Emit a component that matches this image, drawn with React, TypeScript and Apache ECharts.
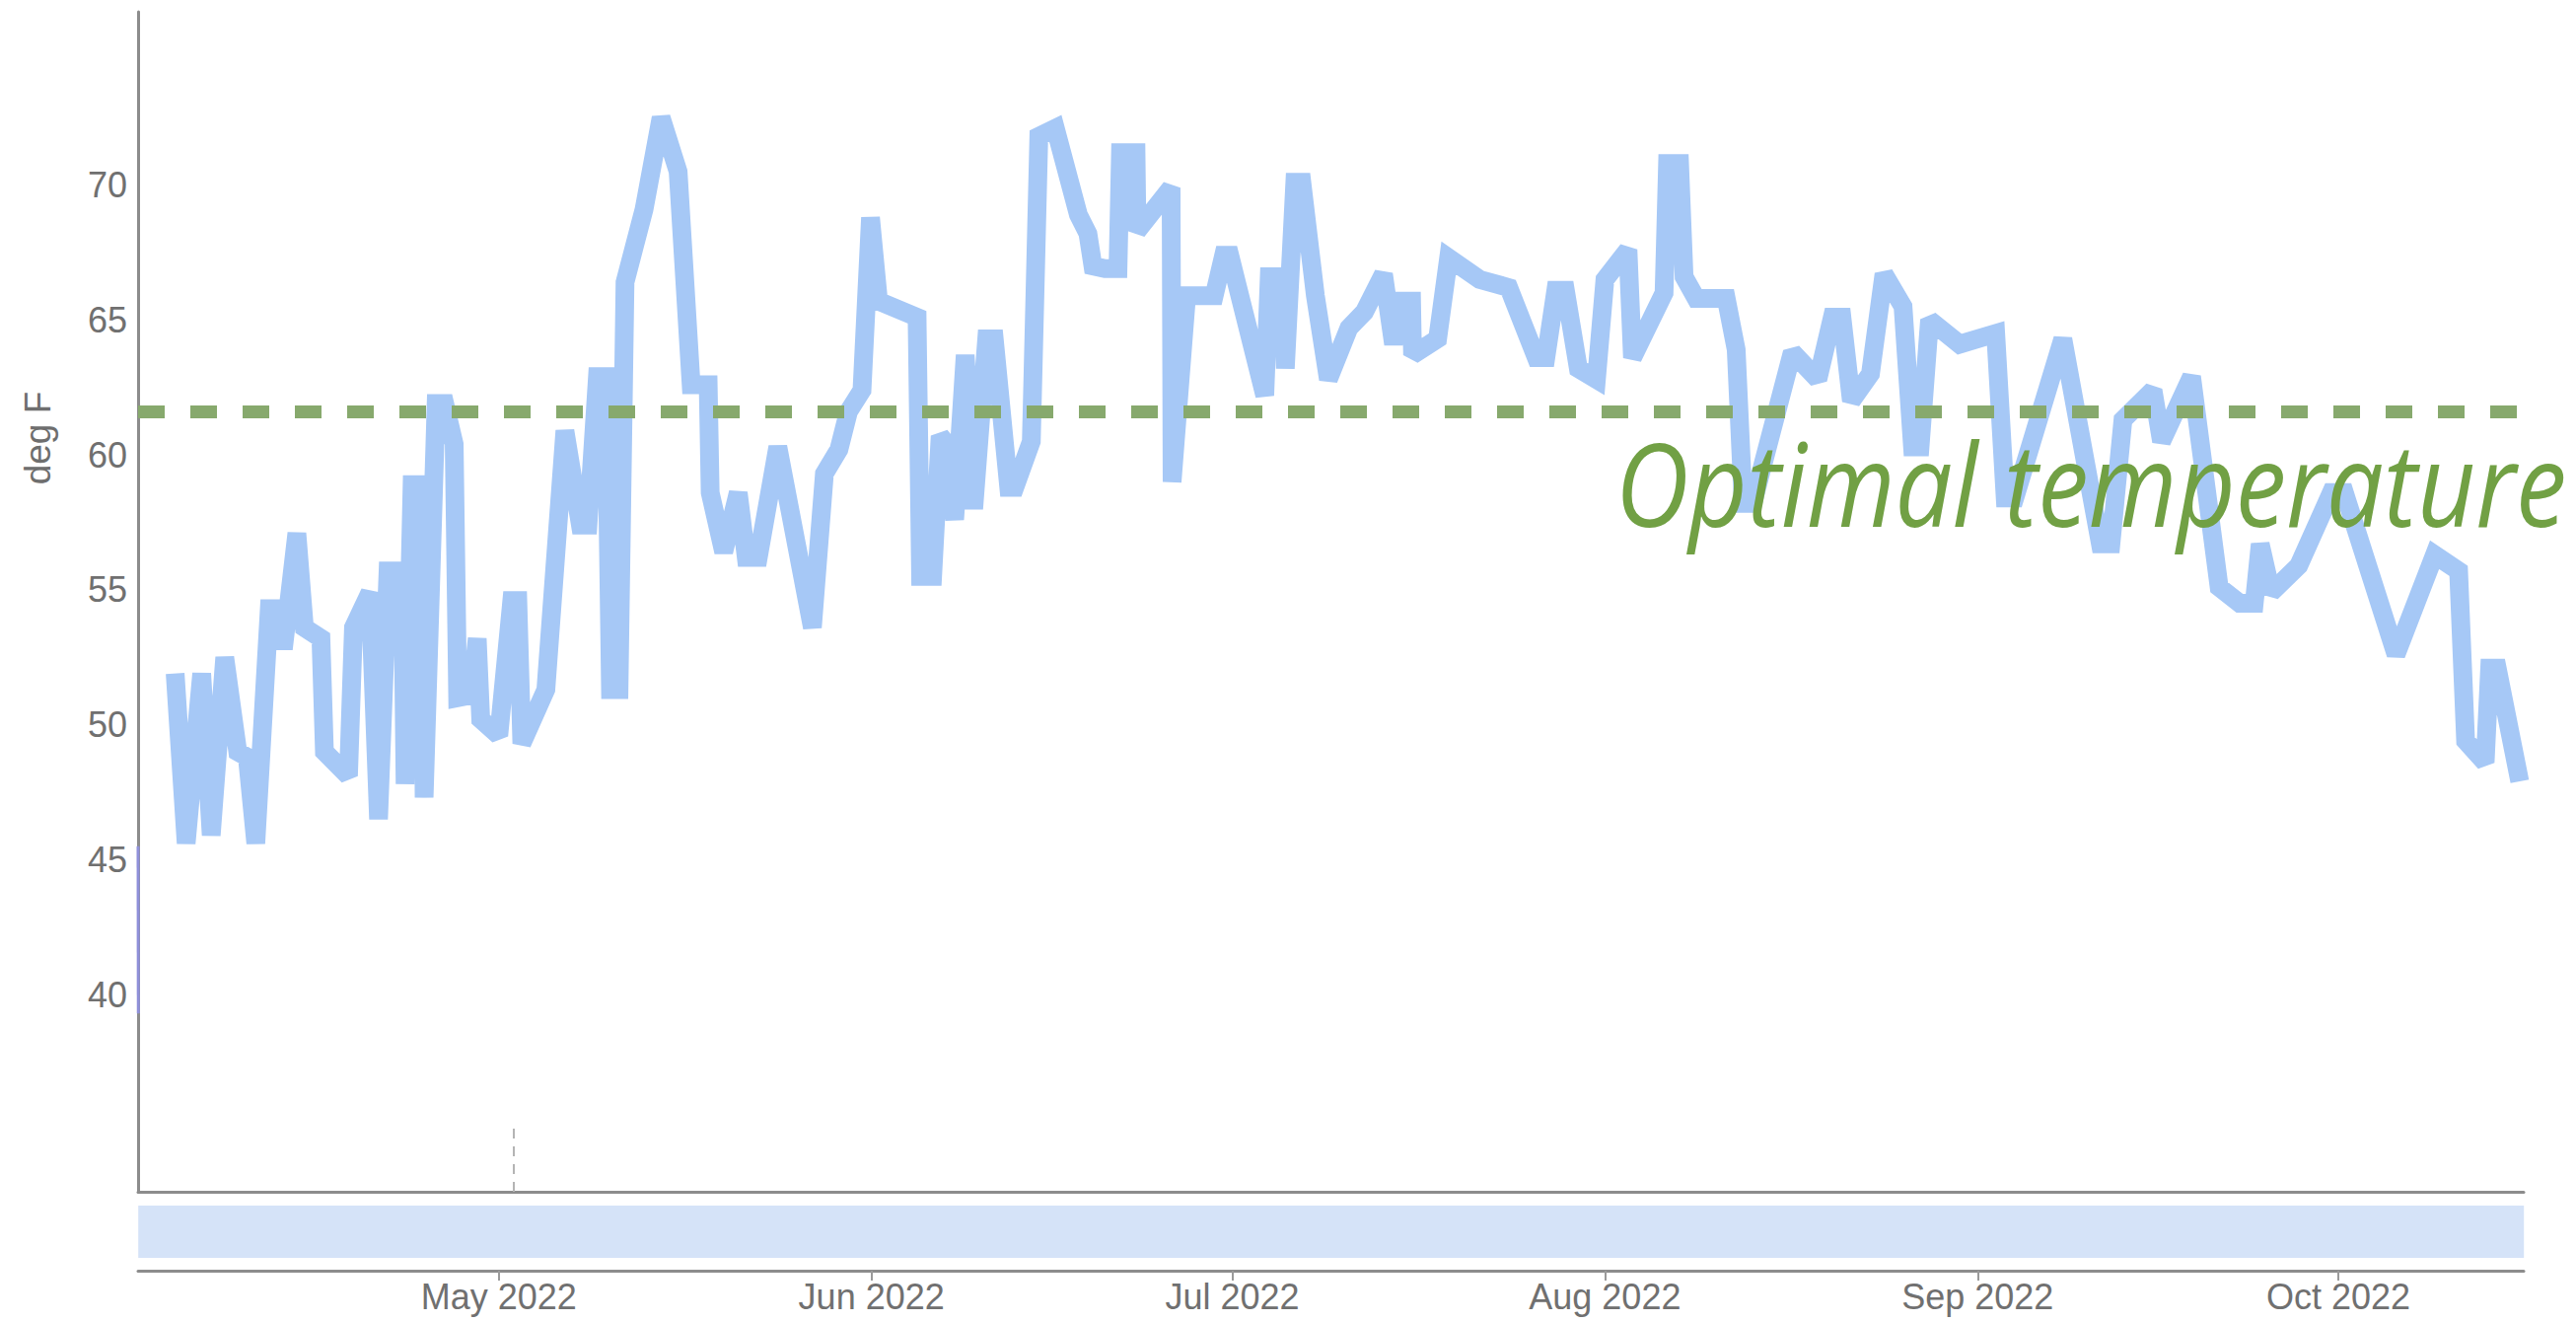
import React, { useEffect, useRef } from 'react';
import * as echarts from 'echarts';

// ---- data ----
const times: string[] = [
  '2022-04-04 02:00', '2022-04-05 00:00', '2022-04-06 07:00', '2022-04-07 02:00', '2022-04-08 05:00',
  '2022-04-09 07:00', '2022-04-10 02:00', '2022-04-10 19:00', '2022-04-11 22:00', '2022-04-12 19:00',
  '2022-04-13 02:00', '2022-04-14 05:00', '2022-04-14 20:00', '2022-04-16 05:00', '2022-04-16 12:00',
  '2022-04-18 12:00', '2022-04-18 22:00', '2022-04-20 07:00', '2022-04-21 00:00', '2022-04-21 19:00',
  '2022-04-23 00:00', '2022-04-23 05:00', '2022-04-23 19:00', '2022-04-24 14:00', '2022-04-24 19:00',
  '2022-04-25 19:00', '2022-04-26 12:00', '2022-04-27 07:00', '2022-04-27 14:00', '2022-04-28 17:00',
  '2022-04-29 05:00', '2022-04-29 12:00', '2022-05-01 00:00', '2022-05-02 02:00', '2022-05-02 14:00',
  '2022-05-02 22:00', '2022-05-04 22:00', '2022-05-06 12:00', '2022-05-07 19:00', '2022-05-08 10:00',
  '2022-05-09 05:00', '2022-05-09 22:00', '2022-05-10 07:00', '2022-05-11 00:00', '2022-05-11 12:00',
  '2022-05-13 02:00', '2022-05-14 12:00', '2022-05-15 22:00', '2022-05-17 00:00', '2022-05-18 10:00',
  '2022-05-18 14:00', '2022-05-19 17:00', '2022-05-20 22:00', '2022-05-21 14:00', '2022-05-22 14:00',
  '2022-05-24 05:00', '2022-05-27 02:00', '2022-05-28 02:00', '2022-05-29 07:00', '2022-05-30 02:00',
  '2022-05-31 05:00', '2022-05-31 22:00', '2022-06-01 14:00', '2022-06-04 19:00', '2022-06-05 02:00',
  '2022-06-06 02:00', '2022-06-06 17:00', '2022-06-07 02:00', '2022-06-07 22:00', '2022-06-08 19:00',
  '2022-06-09 12:00', '2022-06-10 14:00', '2022-06-11 05:00', '2022-06-12 10:00', '2022-06-12 22:00',
  '2022-06-14 07:00', '2022-06-14 22:00', '2022-06-16 07:00', '2022-06-18 05:00', '2022-06-19 00:00',
  '2022-06-19 10:00', '2022-06-20 10:00', '2022-06-21 12:00', '2022-06-21 17:00', '2022-06-23 00:00',
  '2022-06-23 02:00', '2022-06-25 22:00', '2022-06-26 00:00', '2022-06-27 05:00', '2022-06-29 12:00',
  '2022-06-30 07:00', '2022-06-30 19:00', '2022-07-03 17:00', '2022-07-04 02:00', '2022-07-05 05:00',
  '2022-07-05 10:00', '2022-07-06 05:00', '2022-07-06 19:00', '2022-07-07 22:00', '2022-07-09 00:00',
  '2022-07-10 17:00', '2022-07-12 00:00', '2022-07-13 14:00', '2022-07-14 10:00', '2022-07-14 22:00',
  '2022-07-15 22:00', '2022-07-16 00:00', '2022-07-18 02:00', '2022-07-19 00:00', '2022-07-21 14:00',
  '2022-07-24 00:00', '2022-07-26 07:00', '2022-07-27 02:00', '2022-07-27 22:00', '2022-07-28 17:00',
  '2022-07-29 19:00', '2022-07-31 07:00', '2022-08-01 00:00', '2022-08-02 22:00', '2022-08-03 07:00',
  '2022-08-05 22:00', '2022-08-06 05:00', '2022-08-07 05:00', '2022-08-07 14:00', '2022-08-08 14:00',
  '2022-08-11 02:00', '2022-08-11 22:00', '2022-08-12 12:00', '2022-08-13 07:00', '2022-08-16 14:00',
  '2022-08-18 17:00', '2022-08-19 22:00', '2022-08-20 17:00', '2022-08-21 12:00', '2022-08-23 02:00',
  '2022-08-24 05:00', '2022-08-25 19:00', '2022-08-26 14:00', '2022-08-27 05:00', '2022-08-28 00:00',
  '2022-08-30 12:00', '2022-09-02 12:00', '2022-09-03 07:00', '2022-09-04 02:00', '2022-09-08 02:00',
  '2022-09-11 05:00', '2022-09-12 02:00', '2022-09-13 02:00', '2022-09-15 14:00', '2022-09-16 07:00',
  '2022-09-18 19:00', '2022-09-21 02:00', '2022-09-22 19:00', '2022-09-24 00:00', '2022-09-24 12:00',
  '2022-09-25 10:00', '2022-09-27 17:00', '2022-09-30 10:00', '2022-10-01 12:00', '2022-10-05 19:00',
  '2022-10-09 00:00', '2022-10-11 00:00', '2022-10-11 14:00', '2022-10-13 05:00', '2022-10-13 14:00',
  '2022-10-14 05:00', '2022-10-16 02:00',
];

const tempsF: number[] = [
  51.9, 45.6, 51.9, 45.9, 52.5,
  49.0, 48.8, 45.6, 54.3, 54.3,
  52.8, 57.1, 53.6, 53.2, 49.0,
  48.1, 53.6, 54.9, 46.5, 55.7,
  55.7, 47.8, 58.9, 58.9, 47.3,
  61.9, 61.9, 60.4, 51.0, 51.1,
  53.2, 50.2, 49.6, 54.6, 54.6,
  49.3, 51.3, 60.9, 57.4, 57.4,
  62.9, 62.9, 51.3, 51.3, 66.4,
  69.1, 72.5, 70.5, 62.6, 62.6,
  58.6, 56.4, 58.6, 56.2, 56.2,
  60.3, 53.6, 59.3, 60.2, 61.6,
  62.4, 68.8, 65.7, 65.1, 55.5,
  55.5, 60.7, 60.5, 57.6, 63.7,
  58.0, 64.3, 64.3, 58.8, 58.8,
  60.5, 71.8, 72.1, 68.9, 68.2,
  67.0, 66.9, 66.9, 71.2, 71.2,
  68.3, 69.9, 59.0, 65.9, 65.9,
  67.4, 67.4, 62.2, 66.6, 66.6,
  63.2, 70.1, 70.1, 65.9, 62.8,
  64.7, 65.3, 66.7, 64.1, 65.7,
  65.7, 63.7, 64.3, 67.3, 66.5,
  66.2, 63.6, 63.6, 66.1, 66.1,
  63.2, 62.8, 66.5, 67.6, 63.6,
  66.0, 70.8, 70.8, 66.6, 65.8,
  65.8, 63.9, 58.2, 58.2, 63.8,
  62.8, 65.1, 65.1, 62.0, 63.0,
  66.7, 65.5, 60.3, 60.3, 65.0,
  64.1, 64.5, 58.4, 58.4, 64.3,
  56.7, 56.7, 61.3, 62.4, 60.5,
  62.9, 55.1, 54.5, 54.5, 56.7,
  54.9, 55.9, 58.6, 58.6, 52.6,
  56.3, 55.7, 49.4, 48.6, 52.1,
  52.1, 47.9,
];

// short purple trace sitting on the y axis at the start of the range
const startTraceTimes: string[] = ['2022-04-01 00:00', '2022-04-01 00:30'];
const startTraceValues: number[] = [45.5, 39.3];

// faint dashed hover spike near the bottom
const spikeTimes: string[] = ['2022-05-02 06:00', '2022-05-02 06:00'];
const spikeValues: number[] = [32.69, 35.2];

const OPTIMAL_TEMP = 61.6;
const yTickValues: number[] = [40, 45, 50, 55, 60, 65, 70];
const monthTickDates: string[] = ['2022-05-01 00:00', '2022-06-01 00:00', '2022-07-01 00:00', '2022-08-01 00:00', '2022-09-01 00:00', '2022-10-01 00:00'];
const monthTickLabels: string[] = ['May 2022', 'Jun 2022', 'Jul 2022', 'Aug 2022', 'Sep 2022', 'Oct 2022'];

const X_MIN = '2022-04-01 00:00';
const X_MAX = '2022-10-16 10:00';
const Y_MIN = 32.69;
const Y_MAX = 76.42;

function ts(s: string): number {
  const [d, t = '00:00'] = s.split(' ');
  const [y, m, day] = d.split('-').map(Number);
  const [hh, mm] = t.split(':').map(Number);
  return new Date(y, m - 1, day, hh, mm).getTime();
}

const FONT = '"Liberation Sans", Arial, Helvetica, sans-serif';

export default function App() {
  const ref = useRef<HTMLDivElement>(null);

  useEffect(() => {
    if (!ref.current) return;
    const chart = echarts.init(ref.current, undefined, { renderer: 'svg' });
    const monthTs = monthTickDates.map(ts);

    const axisLineStyle = { color: '#8c8c8c', width: 3 };

    const option: any = {
      animation: false,
      backgroundColor: '#ffffff',
      grid: { left: 140, right: 53, top: 12, bottom: 132, containLabel: false },
      xAxis: [
        {
          type: 'value',
          min: ts(X_MIN),
          max: ts(X_MAX),
          axisLine: { show: true, onZero: false, lineStyle: axisLineStyle },
          axisTick: { show: false },
          axisLabel: { show: false },
          splitLine: { show: false },
        },
        {
          type: 'value',
          position: 'bottom',
          offset: 80,
          min: ts(X_MIN),
          max: ts(X_MAX),
          axisLine: { show: true, onZero: false, lineStyle: axisLineStyle },
          axisTick: {
            show: true,
            length: 10,
            inside: false,
            customValues: monthTs,
            lineStyle: { color: '#9a9a9a', width: 2 },
          },
          axisLabel: {
            show: true,
            customValues: monthTs,
            formatter: (v: number) => {
              const i = monthTs.findIndex((m) => Math.abs(m - v) < 3600000);
              return i >= 0 ? monthTickLabels[i] : '';
            },
            fontSize: 36,
            fontFamily: FONT,
            color: '#707070',
            margin: 8,
          },
          splitLine: { show: false },
        },
      ],
      yAxis: {
        type: 'value',
        min: Y_MIN,
        max: Y_MAX,
        axisLine: { show: true, lineStyle: axisLineStyle },
        axisTick: { show: false },
        splitLine: { show: false },
        axisLabel: {
          customValues: yTickValues,
          formatter: (v: number) => String(Math.round(v)),
          fontSize: 36,
          fontFamily: FONT,
          color: '#707070',
          margin: 11,
        },
      },
      dataZoom: [
        {
          type: 'slider',
          xAxisIndex: 0,
          filterMode: 'none',
          start: 0,
          end: 100,
          left: 140,
          right: 53,
          top: 1222,
          height: 53,
          backgroundColor: 'rgba(0,0,0,0)',
          borderColor: 'rgba(0,0,0,0)',
          fillerColor: '#d5e3f8',
          showDataShadow: false,
          dataBackground: { lineStyle: { opacity: 0 }, areaStyle: { opacity: 0 } },
          selectedDataBackground: { lineStyle: { opacity: 0 }, areaStyle: { opacity: 0 } },
          handleSize: 0,
          handleStyle: { opacity: 0, borderWidth: 0 },
          moveHandleSize: 0,
          moveHandleStyle: { opacity: 0 },
          showDetail: false,
          brushSelect: false,
          zoomLock: true,
          emphasis: { handleStyle: { opacity: 0 }, moveHandleStyle: { opacity: 0 } },
        },
      ],
      series: [
        {
          name: 'Temperature',
          type: 'line',
          xAxisIndex: 0,
          yAxisIndex: 0,
          data: times.map((t, i) => [ts(t), tempsF[i]]),
          symbol: 'none',
          showSymbol: false,
          silent: true,
          z: 2,
          lineStyle: { color: '#a6c8f6', width: 19, join: 'miter', miterLimit: 2 },
          markLine: {
            silent: true,
            symbol: ['none', 'none'],
            label: { show: false },
            z: 5,
            lineStyle: { color: '#87a96d', width: 13, type: [27, 26], opacity: 1 },
            emphasis: { disabled: true },
            data: [{ yAxis: OPTIMAL_TEMP }],
          },
        },
        {
          name: 'start',
          type: 'line',
          xAxisIndex: 0,
          yAxisIndex: 0,
          data: startTraceTimes.map((t, i) => [ts(t), startTraceValues[i]]),
          symbol: 'none',
          silent: true,
          z: 4,
          lineStyle: { color: '#8f90da', width: 3 },
        },
        {
          name: 'spike',
          type: 'line',
          xAxisIndex: 0,
          yAxisIndex: 0,
          data: spikeTimes.map((t, i) => [ts(t), spikeValues[i]]),
          symbol: 'none',
          silent: true,
          z: 3,
          lineStyle: { color: '#b4b4b4', width: 2, type: [10, 8] },
        },
      ],
      graphic: [
        {
          type: 'text',
          z: 100,
          x: 1638,
          y: 489,
          scaleY: 1.13,
          silent: true,
          style: {
            text: 'Optimal temperature',
            fontFamily: '"Open Sans", "Noto Sans", sans-serif',
            fontStyle: 'italic',
            fontSize: 103,
            fill: '#71a044',
            textAlign: 'left',
            textVerticalAlign: 'middle',
          },
        },
        {
          type: 'text',
          z: 100,
          x: 38,
          y: 444,
          rotation: Math.PI / 2,
          silent: true,
          style: {
            text: 'deg F',
            fontFamily: FONT,
            fontSize: 37,
            fill: '#6e6e6e',
            textAlign: 'center',
            textVerticalAlign: 'middle',
          },
        },
      ],
    };

    chart.setOption(option);
    return () => chart.dispose();
  }, []);

  return (
    <div
      ref={ref}
      style={{ position: 'fixed', left: 0, top: 0, width: '2612px', height: '1340px', background: '#ffffff' }}
    />
  );
}
